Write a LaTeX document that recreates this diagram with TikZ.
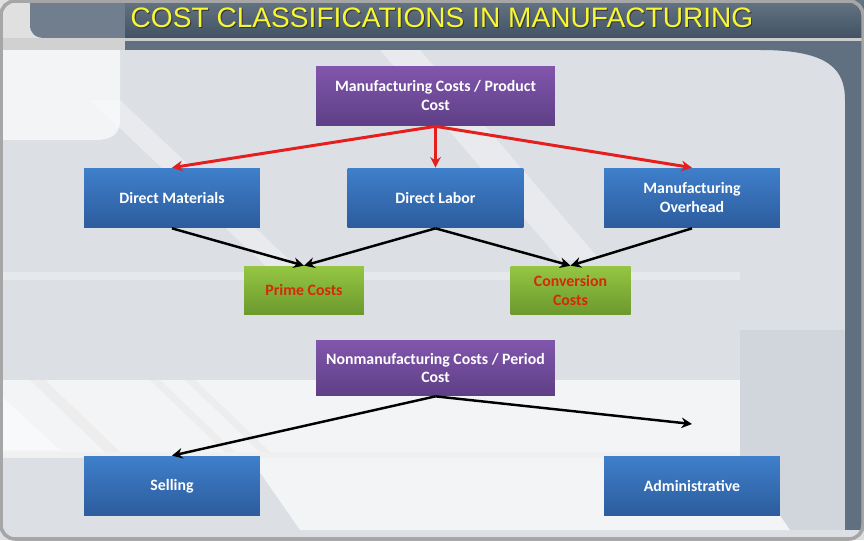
\documentclass[tikz,border=0pt]{standalone}
\usepackage{fontspec}
\setmainfont{Carlito}
\newfontfamily\headfont{Liberation Sans}
\usetikzlibrary{arrows.meta}
\definecolor{slide-bg}{HTML}{DCE0E5}
\definecolor{slide-light}{HTML}{F2F4F6}
\definecolor{slide-shade}{HTML}{D1D6DC}
\definecolor{slide-dark}{HTML}{405264}
\definecolor{slide-mid}{HTML}{607080}
\definecolor{blue-top}{HTML}{3F7FCB}
\definecolor{blue-bot}{HTML}{2C5C9C}
\definecolor{purple-top}{HTML}{8156AC}
\definecolor{purple-bot}{HTML}{5E3F86}
\definecolor{green-top}{HTML}{94C643}
\definecolor{green-bot}{HTML}{6C982D}
\definecolor{cost-red}{HTML}{D42A0A}
\definecolor{arrow-red}{HTML}{E51E1E}
\definecolor{title-yellow}{HTML}{F7F733}
\newcommand\costfont{\bfseries\fontsize{9}{10.8}\selectfont}
\tikzset{
    cost-box/.style = {rectangle, inner sep=0pt, align=center, font=\costfont, minimum height=1.2cm},
    blue-box/.style = {cost-box, top color=blue-top, bottom color=blue-bot, text=white, minimum width=3.52cm},
    purple-box/.style = {cost-box, top color=purple-top, bottom color=purple-bot, text=white, minimum width=4.78cm},
    green-box/.style = {cost-box, top color=green-top, bottom color=green-bot, text=cost-red, minimum width=2.4cm, minimum height=0.98cm},
    red-arrow/.style = {draw=arrow-red, line width=1.7pt, -{Stealth[length=6pt,width=6pt]}},
    black-arrow/.style = {draw=black, line width=1.4pt, -{Stealth[length=6pt,width=6pt]}},
}

\begin{document}
\begin{tikzpicture}[x=0.02cm,y=-0.02cm]
\useasboundingbox (0,0) rectangle (864,540);
% slide background
\fill[slide-bg] (0,0) rectangle (864,540);
\fill[slide-light] (0,50) -- (120,50) -- (120,120) .. controls (120,135) and (110,140) .. (95,140) -- (0,140) -- cycle;
\fill[slide-shade] (740,330) rectangle (845,530);
\fill[slide-light] (0,380) rectangle (740,452);
\fill[slide-light] (250,458) -- (740,458) -- (790,530) -- (300,530) -- cycle;
\fill[black!6] (0,452) rectangle (740,458);
\fill[white,opacity=0.5] (0,395) -- (0,450) -- (60,450) -- cycle;
\fill[black!7] (30,380) -- (45,380) -- (120,452) -- (105,452) -- cycle;
\fill[black!7] (150,380) -- (160,380) -- (235,452) -- (225,452) -- cycle;
\fill[black!7] (185,380) -- (195,380) -- (270,452) -- (260,452) -- cycle;
\fill[white,opacity=0.35] (380,50) -- (420,50) -- (600,260) -- (560,260) -- cycle;
\fill[white,opacity=0.35] (90,100) -- (120,100) -- (300,270) -- (270,270) -- cycle;
\fill[white,opacity=0.3] (0,272) rectangle (740,280);
\fill[slide-mid] (845,50) rectangle (864,530);
\fill[slide-mid] (760,50) -- (845,50) -- (845,100) .. controls (845,70) and (830,50) .. (760,50) -- cycle;
\fill[black!18] (0,38) rectangle (125,50);
\fill[black!12] (0,0) rectangle (30,38);
\fill[slide-mid!90] (30,0) -- (125,0) -- (125,38) -- (45,38) .. controls (35,38) and (30,33) .. (30,25) -- cycle;
\fill[top color=slide-dark!80, bottom color=slide-dark] (125,0) rectangle (864,38);
\fill[black!20] (125,38) rectangle (864,41);
\fill[slide-mid] (125,41) rectangle (864,50);
\draw[black!35,line width=2pt,rounded corners=8pt] (1,1) rectangle (863,539);
% title
\node[text=black!80, font=\headfont\fontsize{16}{18}\selectfont] (title-shadow) at (443,19) {COST CLASSIFICATIONS IN MANUFACTURING};
\node[text=title-yellow, font=\headfont\fontsize{16}{18}\selectfont] (title) at (442,18) {COST CLASSIFICATIONS IN MANUFACTURING};
% boxes
\node[purple-box] (mfg) at (435.5,96) {Manufacturing Costs / Product\\Cost};
\node[blue-box] (dm) at (172,198) {Direct Materials};
\node[blue-box] (dl) at (435.5,198) {Direct Labor};
\node[blue-box] (moh) at (692,198) {Manufacturing\\Overhead};
\node[green-box] (prime) at (304,290.5) {Prime Costs};
\node[green-box] (conv) at (570.5,290.5) {Conversion\\Costs};
\node[purple-box, minimum height=1.12cm] (nonmfg) at (435.5,368) {Nonmanufacturing Costs / Period\\Cost};
\node[blue-box] (sell) at (172,486) {Selling};
\node[blue-box] (admin) at (692,486) {Administrative};
\coordinate (admin-end) at (692,424);
% arrows
\draw[red-arrow] (mfg.south) -- (dm.north);
\draw[red-arrow] (mfg.south) -- (dl.north);
\draw[red-arrow] (mfg.south) -- (moh.north);
\draw[black-arrow] (dm.south) -- (prime.north);
\draw[black-arrow] (dl.south) -- (prime.north);
\draw[black-arrow] (dl.south) -- (conv.north);
\draw[black-arrow] (moh.south) -- (conv.north);
\draw[black-arrow] (nonmfg.south) -- (sell.north);
\draw[black-arrow] (nonmfg.south) -- (admin-end);
\end{tikzpicture}
\end{document}
